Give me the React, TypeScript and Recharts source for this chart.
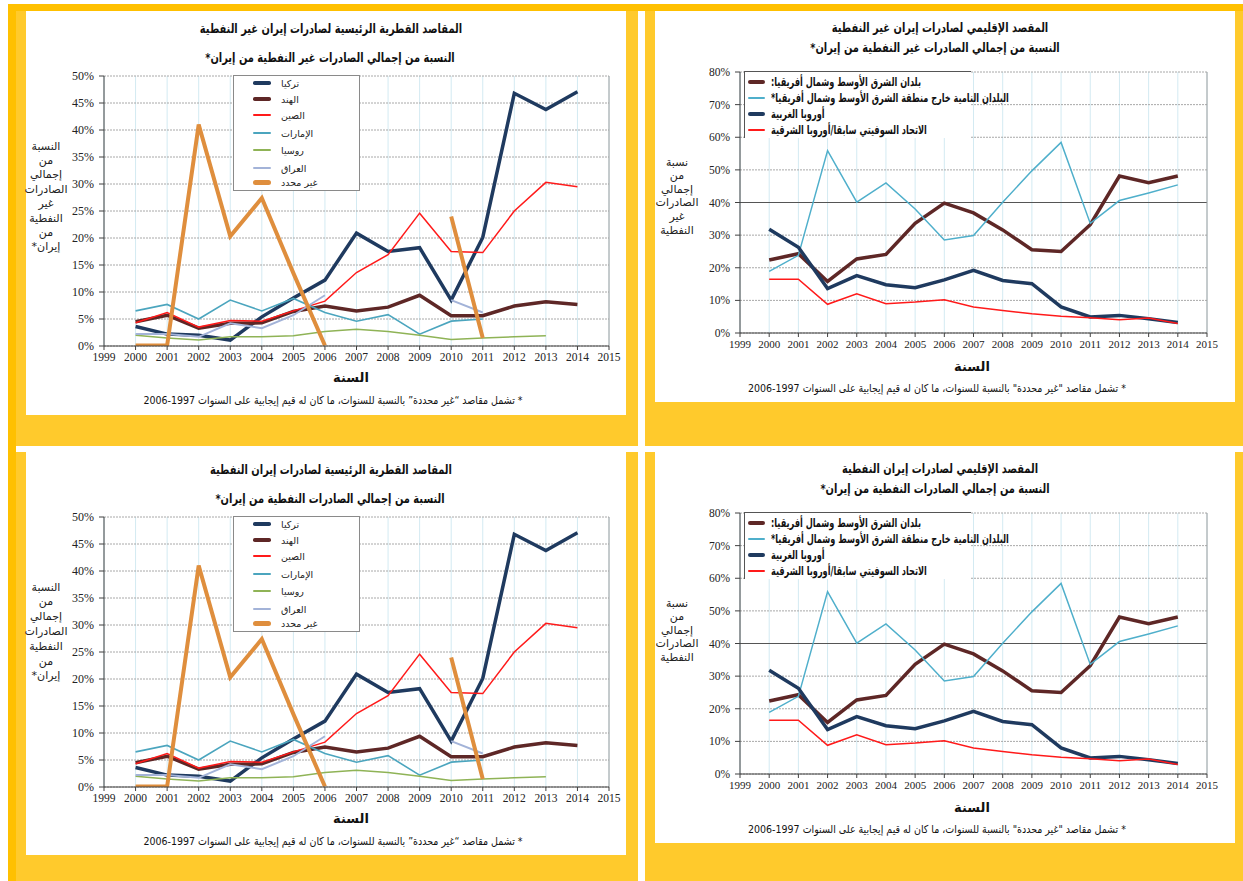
import React from 'react';
import { LineChart, Line, XAxis, YAxis, CartesianGrid, ReferenceLine } from 'recharts';

// ---------- data ----------
const years = [2000, 2001, 2002, 2003, 2004, 2005, 2006, 2007, 2008, 2009, 2010, 2011, 2012, 2013, 2014];
const xTicks = [1999, 2000, 2001, 2002, 2003, 2004, 2005, 2006, 2007, 2008, 2009, 2010, 2011, 2012, 2013, 2014, 2015];
const countryTicks = [0, 5, 10, 15, 20, 25, 30, 35, 40, 45, 50];
const regionTicks = [0, 10, 20, 30, 40, 50, 60, 70, 80];

// country destinations (% of exports)
const turkey = [3.6, 2.2, 2.0, 1.1, 5.4, 8.9, 12.2, 20.9, 17.5, 18.2, 8.5, 20.1, 46.8, 43.8, 47.1];
const india = [4.5, 5.7, 3.3, 4.2, 4.3, 6.4, 7.4, 6.5, 7.2, 9.4, 5.6, 5.6, 7.4, 8.2, 7.7];
const china = [4.3, 6.2, 3.5, 4.7, 4.6, 6.5, 8.3, 13.6, 16.9, 24.6, 17.5, 17.3, 25.0, 30.3, 29.5];
const uae = [6.5, 7.7, 5.0, 8.5, 6.5, 8.8, 6.2, 4.6, 5.8, 2.2, 4.6, 5.0, null, null, null];
const russia = [2.0, 1.5, 1.1, 1.7, 1.7, 1.9, 2.7, 3.1, 2.7, 2.0, 1.2, 1.5, 1.7, 1.9, null];
const iraq = [2.2, 2.2, 1.7, 4.2, 3.3, 5.7, 9.4, null, null, null, 8.5, 6.2, null, null, null];
const undetermined = [0.1, 0.1, 41.0, 20.3, 27.4, 13.5, 0.1, null, null, null, 24.0, 1.5, null, null, null];

// regional destinations (% of exports)
const mena = [22.4, 24.3, 15.8, 22.7, 24.1, 33.6, 39.8, 36.8, 31.6, 25.5, 25.0, 33.2, 48.1, 46.1, 48.1];
const developing = [18.9, 23.8, 55.9, 40.1, 46.0, 38.0, 28.5, 29.9, 40.1, 49.7, 58.4, 33.6, 40.6, 42.9, 45.4];
const westEurope = [31.8, 26.3, 13.6, 17.6, 14.8, 13.9, 16.3, 19.2, 16.1, 15.1, 8.0, 4.9, 5.4, 4.4, 3.2];
const fsu = [16.5, 16.5, 8.8, 12.0, 9.0, 9.5, 10.2, 8.0, 6.9, 5.9, 5.1, 4.7, 4.1, 4.6, 2.9];

type Series = { key: string; label: string; color: string; width: number; legendWidth: number; values: (number | null)[] };

const countrySeries: Series[] = [
  { key: 'turkey', label: 'تركيا', color: '#1F3A5F', width: 3.5, legendWidth: 3.5, values: turkey },
  { key: 'india', label: 'الهند', color: '#5E2726', width: 3.5, legendWidth: 3.5, values: india },
  { key: 'china', label: 'الصين', color: '#FF1A1A', width: 1.5, legendWidth: 2, values: china },
  { key: 'uae', label: 'الإمارات', color: '#4BA5BE', width: 1.6, legendWidth: 2.5, values: uae },
  { key: 'russia', label: 'روسيا', color: '#8FB356', width: 1.5, legendWidth: 2.5, values: russia },
  { key: 'iraq', label: 'العراق', color: '#A3B3D8', width: 2, legendWidth: 2.5, values: iraq },
  { key: 'undetermined', label: 'غير محدد', color: '#DF8E3D', width: 4, legendWidth: 5, values: undetermined },
];

const regionSeries: Series[] = [
  { key: 'mena', label: 'بلدان الشرق الأوسط وشمال أفريقيا:', color: '#5E2726', width: 3.5, legendWidth: 4, values: mena },
  { key: 'developing', label: 'البلدان النامية خارج منطقة الشرق الأوسط وشمال أفريقيا*', color: '#4FAFCB', width: 1.5, legendWidth: 2, values: developing },
  { key: 'westEurope', label: 'أوروبا الغربية', color: '#1F3A5F', width: 3.5, legendWidth: 4, values: westEurope },
  { key: 'fsu', label: 'الاتحاد السوفيتي سابقا/أوروبا الشرقية', color: '#FF1A1A', width: 1.5, legendWidth: 2, values: fsu },
];

const footnote = '* تشمل مقاصد "غير محددة" بالنسبة للسنوات، ما كان له قيم إيجابية على السنوات 1997-2006';

// ---------- helpers ----------
const AR = '"DejaVu Sans", sans-serif';
const SERIF = '"Liberation Serif", "Times New Roman", serif';
const YEL = '#FFCA2C';
const YEL_DARK = '#FFC000';

function Box({ l, t, w, h, c }: { l: number; t: number; w: number; h: number; c: string }) {
  return <div style={{ position: 'absolute', left: l, top: t, width: w, height: h, background: c }} />;
}

function Txt({ x, y, size, bold, text, width = 600, anchor = 'center', color = '#111', sx = 1 }: any) {
  const lh = Math.round(size * 1.4);
  const style: React.CSSProperties = {
    position: 'absolute', top: y - lh / 2, fontSize: size, lineHeight: `${lh}px`, fontFamily: AR,
    fontWeight: bold ? 'bold' : 'normal', color, whiteSpace: 'nowrap', direction: 'rtl',
    transform: sx !== 1 ? `scaleX(${sx})` : undefined,
  };
  if (anchor === 'center') { style.left = x - width / 2; style.width = width; style.textAlign = 'center'; style.transformOrigin = 'center'; }
  else { style.left = x; style.transformOrigin = 'left center'; }
  return <div style={style}>{text}</div>;
}

function YLabel({ x, y, lines, step, size }: { x: number; y: number; lines: string[]; step: number; size: number }) {
  return (
    <>
      {lines.map((ln, i) => (
        <Txt key={i} x={x} y={y + i * step} size={size} text={ln} width={80} color="#222" />
      ))}
    </>
  );
}

function Chart({ left, top, width, height, plot, yMax, yTicks, series, dark, tickSize }: any) {
  const data = years.map((year, i) => {
    const row: any = { year };
    series.forEach((s: Series) => { row[s.key] = s.values[i]; });
    return row;
  });
  return (
    <div style={{ position: 'absolute', left, top }}>
      <LineChart width={width} height={height} data={data}
        margin={{ top: plot.top, right: plot.right, bottom: plot.bottom - 30, left: plot.left - 40 }}>
        <CartesianGrid horizontal={false} stroke="#D3EAF2" />
        <CartesianGrid vertical={false} stroke="#A8A8A8" strokeDasharray="2 1" />
        {dark.map((v: number) => <ReferenceLine key={v} y={v} stroke="#555" strokeWidth={1} />)}
        <ReferenceLine x={2015} stroke="#A0A0A0" />
        <XAxis type="number" dataKey="year" domain={[1999, 2015]} ticks={xTicks} interval={0}
          tick={{ fontSize: tickSize, fill: '#222', fontFamily: SERIF }} tickSize={4} tickMargin={3}
          axisLine={{ stroke: '#404040' }} tickLine={{ stroke: '#404040' }} height={30} allowDataOverflow />
        <YAxis domain={[0, yMax]} ticks={yTicks} interval={0} tickFormatter={(v: number) => `${v}%`}
          tick={{ fontSize: tickSize + 0.5, fill: '#222', fontFamily: SERIF }} tickSize={5} tickMargin={5}
          axisLine={{ stroke: '#404040' }} tickLine={{ stroke: '#404040' }} width={40} allowDataOverflow />
        {series.map((s: Series) => (
          <Line key={s.key} type="linear" dataKey={s.key} stroke={s.color} strokeWidth={s.width}
            dot={false} activeDot={false} connectNulls={false} isAnimationActive={false} />
        ))}
      </LineChart>
    </div>
  );
}

function CountryPanel({ dy, title1, title2, ylines, ystep }: any) {
  const rows = [83, 99, 115, 133, 150, 168, 182];
  return (
    <>
      <Chart left={26} top={11 + dy} width={600} height={404}
        plot={{ left: 78, top: 65, right: 17, bottom: 69 }} yMax={50} yTicks={countryTicks}
        series={countrySeries} dark={[]} tickSize={11.5} />
      <Txt x={331} y={29 + dy} size={13} bold text={title1} sx={0.76} />
      <Txt x={330} y={58 + dy} size={13} bold text={title2} sx={0.76} />
      <YLabel x={46} y={146 + dy} lines={ylines} step={ystep} size={11} />
      <Txt x={351} y={378 + dy} size={13} bold text="السنة" />
      <Txt x={333} y={400 + dy} size={11} text={footnote.replace('"', '“').replace('"', '”')} sx={0.86} />
      <div style={{ position: 'absolute', left: 233, top: 75 + dy, width: 127, height: 116, background: '#fff', border: '1px solid #8a8a8a', boxSizing: 'border-box' }} />
      {countrySeries.map((s, i) => (
        <React.Fragment key={s.key}>
          <div style={{ position: 'absolute', left: 253, top: rows[i] + dy - s.legendWidth / 2, width: 18, height: s.legendWidth, background: s.color, borderRadius: s.legendWidth / 2 }} />
          <Txt x={281} y={rows[i] + dy} size={9.5} text={s.label} anchor="start" color="#222" />
        </React.Fragment>
      ))}
    </>
  );
}

function RegionPanel({ dy, title1, title2, ylines }: any) {
  const rows = [82, 98, 114, 130];
  return (
    <>
      <Chart left={655} top={11 + dy} width={580} height={391}
        plot={{ left: 85, top: 61, right: 28, bottom: 69 }} yMax={80} yTicks={regionTicks}
        series={regionSeries} dark={[40]} tickSize={11} />
      <Txt x={940} y={28 + dy} size={13} bold text={title1} sx={0.76} />
      <Txt x={935} y={48 + dy} size={13} bold text={title2} sx={0.76} />
      <YLabel x={677} y={162 + dy} lines={ylines} step={13.6} size={11} />
      <Txt x={972} y={367 + dy} size={13} bold text="السنة" />
      <Txt x={937} y={388 + dy} size={11} text={footnote} sx={0.86} />
      <div style={{ position: 'absolute', left: 744, top: 71 + dy, width: 227, height: 67, background: '#fff', borderTop: '1px solid #555', borderLeft: '1px solid #555', boxSizing: 'border-box' }} />
      {regionSeries.map((s, i) => (
        <React.Fragment key={s.key}>
          <div style={{ position: 'absolute', left: 748, top: rows[i] + dy - s.legendWidth / 2, width: 17, height: s.legendWidth, background: s.color, borderRadius: s.legendWidth / 2 }} />
          <Txt x={771} y={rows[i] + dy} size={12} bold text={s.label} anchor="start" color="#111" sx={0.68} />
        </React.Fragment>
      ))}
    </>
  );
}

export default function App() {
  return (
    <div style={{ position: 'absolute', left: 0, top: 0, width: 1243, height: 881, background: '#fff', overflow: 'hidden' }}>
      {/* frames */}
      <Box l={8} t={4} w={8} h={877} c={YEL_DARK} />
      <Box l={8} t={4} w={1235} h={7} c={YEL_DARK} />
      <Box l={16} t={11} w={622} h={435} c={YEL} />
      <Box l={645} t={11} w={598} h={435} c={YEL} />
      <Box l={16} t={452} w={622} h={429} c={YEL} />
      <Box l={645} t={452} w={598} h={429} c={YEL} />
      <Box l={26} t={11} w={600} h={404} c="#fff" />
      <Box l={655} t={11} w={580} h={391} c="#fff" />
      <Box l={26} t={452} w={600} h={403} c="#fff" />
      <Box l={655} t={452} w={580} h={391} c="#fff" />

      <CountryPanel dy={0}
        title1="المقاصد القطرية الرئيسية لصادرات إيران غير النفطية"
        title2="النسبة من إجمالي الصادرات غير النفطية من إيران*"
        ylines={['النسبة', 'من', 'إجمالي', 'الصادرات', 'غير', 'النفطية', 'من', 'إيران*']} ystep={14.4} />
      <CountryPanel dy={441}
        title1="المقاصد القطرية الرئيسية لصادرات إيران النفطية"
        title2="النسبة من إجمالي الصادرات النفطية من إيران*"
        ylines={['النسبة', 'من', 'إجمالي', 'الصادرات', 'النفطية', 'من', 'إيران*']} ystep={14.8} />
      <RegionPanel dy={0}
        title1="المقصد الإقليمي لصادرات إيران غير النفطية"
        title2="النسبة من إجمالي الصادرات غير النفطية من إيران*"
        ylines={['نسبة', 'من', 'إجمالي', 'الصادرات', 'غير', 'النفطية']} />
      <RegionPanel dy={441}
        title1="المقصد الإقليمي لصادرات إيران النفطية"
        title2="النسبة من إجمالي الصادرات النفطية من إيران*"
        ylines={['نسبة', 'من', 'إجمالي', 'الصادرات', 'النفطية']} />
    </div>
  );
}
